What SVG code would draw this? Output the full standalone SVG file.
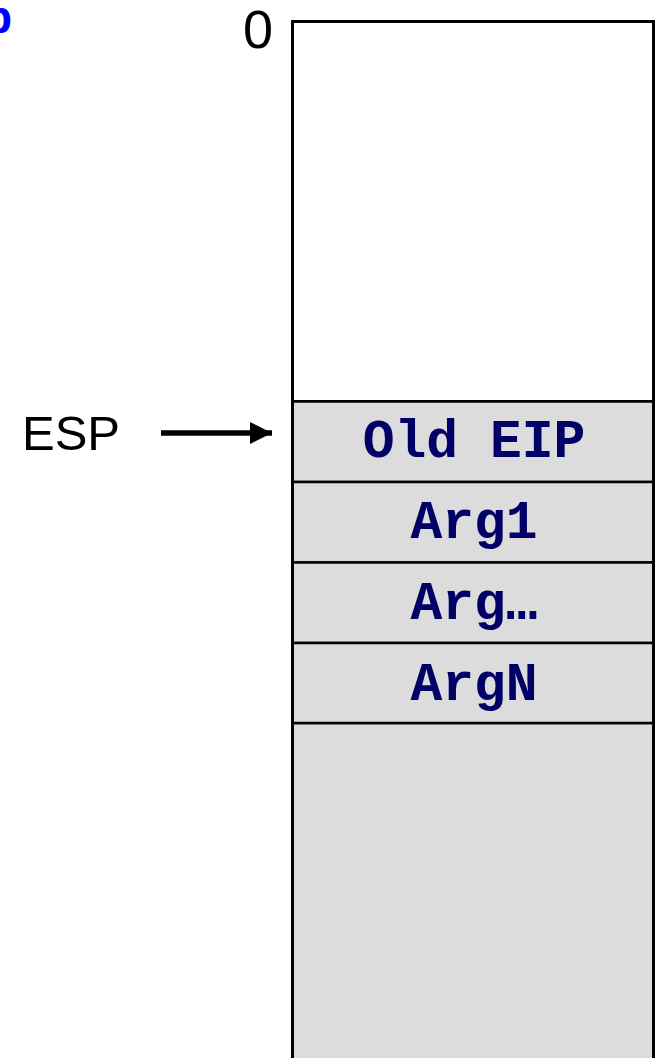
<svg xmlns="http://www.w3.org/2000/svg" width="657" height="1058" viewBox="0 0 657 1058">
<style>
.cell{fill:#dcdcdc;stroke:#000;stroke-width:2.5}
.lbl{font-family:"Liberation Mono","Courier New",monospace;font-weight:bold;font-size:53px;fill:#000066;text-anchor:middle}
.sans{font-family:"Liberation Sans",Arial,sans-serif;fill:#000}
</style>
<defs>
<marker id="ah" markerUnits="userSpaceOnUse" markerWidth="24" markerHeight="22" refX="22" refY="11" orient="auto">
<path d="M0,0 L22,11 L0,22 Z" fill="#000"/>
</marker>
</defs>
<g id="clipped-title"><text x="12" y="33" text-anchor="end" font-family="Liberation Sans, Arial, sans-serif" font-weight="bold" font-size="46" fill="#0000ff">p</text></g>
<g id="zero-label"><text class="sans" x="273" y="48" text-anchor="end" font-size="54">0</text></g>
<g id="stack">
<rect id="free" x="292.5" y="21.5" width="361" height="380" fill="#fff" stroke="#000" stroke-width="3"/>
<rect id="below" x="292.5" y="723" width="361" height="350" class="cell"/>
<g id="old-eip"><rect x="292.5" y="401.5" width="361" height="80.5" class="cell"/><text class="lbl" x="474" y="457">Old EIP</text></g>
<g id="arg1"><rect x="292.5" y="482" width="361" height="80.5" class="cell"/><text class="lbl" x="474" y="538">Arg1</text></g>
<g id="argdots"><rect x="292.5" y="562.5" width="361" height="80.5" class="cell"/><text class="lbl" x="474" y="619">Arg…</text></g>
<g id="argn"><rect x="292.5" y="643" width="361" height="80" class="cell"/><text class="lbl" x="474" y="700">ArgN</text></g>
<path d="M292.5,401.5 V1060 M653.5,21.5 V1060" stroke="#000" stroke-width="3" fill="none"/>
</g>
<g id="esp"><text class="sans" x="22" y="450" font-size="49">ESP</text></g>
<g id="connectors">
<line x1="161" y1="433" x2="272" y2="433" stroke="#000" stroke-width="5.5" marker-end="url(#ah)"/>
</g>
</svg>
